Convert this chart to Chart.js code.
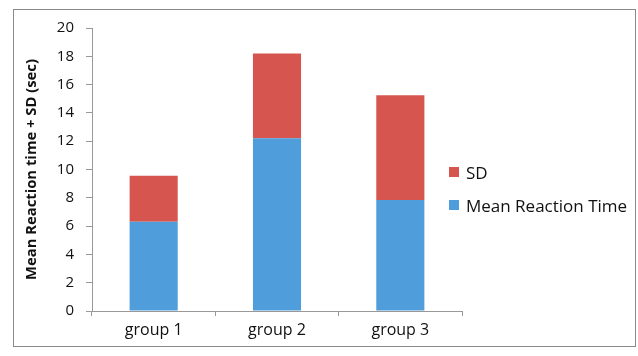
<!DOCTYPE html>
<html lang="en">
<head>
    <meta charset="UTF-8">
    <title>Mean Reaction Time + SD</title>
    <script src="https://cdn.jsdelivr.net/npm/chart.js"></script>
    <style>
        body { margin: 0; background: #fff; }
        .wrap { position: relative; width: 638px; height: 356px; }
        .frame {
            position: absolute; left: 13px; top: 9px; width: 623px; height: 338px;
            border: 1px solid #8a8a8a; box-sizing: border-box;
        }
        canvas { position: absolute; left: 0; top: 0; }
        .legend { position: absolute; left: 449px; top: 161px; font-family: "Open Sans", sans-serif; font-size: 17px; color: #111; }
        .legend div { display: flex; align-items: center; height: 22px; margin-bottom: 11px; }
        .legend span.box { width: 10px; height: 10px; margin-right: 7px; display: inline-block; }
    </style>
</head>
<body>
<div class="wrap">
    <div class="frame"></div>
    <canvas id="chart" width="638" height="356"></canvas>
    <div class="legend" id="legend"></div>
</div>
<script>
    // data
    const groups = ['group 1', 'group 2', 'group 3'];
    const meanReaction = [6.3, 12.2, 7.85];
    const sdValues = [3.25, 6.0, 7.4];
    const yTicks = [0, 2, 4, 6, 8, 10, 12, 14, 16, 18, 20];
    const yTitle = 'Mean Reaction time + SD (sec)';

    const blue = '#4f9edb';
    const red = '#d6564f';

    const datasets = [
        { label: 'Mean Reaction Time', data: meanReaction, backgroundColor: blue },
        { label: 'SD', data: sdValues, backgroundColor: red }
    ];

    // y title drawn by hand so it sits centred on the plot
    const yTitlePlugin = {
        id: 'yTitle',
        afterDraw(chart) {
            const { ctx, chartArea } = chart;
            ctx.save();
            ctx.translate(32, (chartArea.top + chartArea.bottom) / 2);
            ctx.rotate(-Math.PI / 2);
            ctx.font = 'bold 14.8px "Open Sans"';
            ctx.fillStyle = '#111';
            ctx.textAlign = 'center';
            ctx.textBaseline = 'middle';
            ctx.fillText(yTitle, 0, 0);
            ctx.restore();
        }
    };

    const chart = new Chart(document.getElementById('chart'), {
        type: 'bar',
        data: { labels: groups, datasets: datasets },
        options: {
            responsive: false,
            animation: false,
            layout: { padding: { left: 22, right: 176, top: 28, bottom: 10 } },
            datasets: { bar: { categoryPercentage: 1, barPercentage: 0.39 } },
            plugins: { legend: { display: false }, tooltip: { enabled: false } },
            scales: {
                x: {
                    stacked: true,
                    grid: { offset: true, drawOnChartArea: false, tickLength: 5, color: '#999' },
                    border: { color: '#999' },
                    ticks: { color: '#111', padding: 5, font: { family: 'Open Sans', size: 16 } },
                    afterFit: s => { s.height = 35; }
                },
                y: {
                    stacked: true,
                    min: 0,
                    max: 20,
                    afterBuildTicks: s => { s.ticks = yTicks.map(v => ({ value: v })); },
                    grid: { drawOnChartArea: false, tickLength: 6, color: '#999' },
                    border: { color: '#999' },
                    ticks: { color: '#111', padding: 12, font: { family: 'Open Sans', size: 15 } },
                    afterFit: s => { s.width = 70; }
                }
            }
        },
        plugins: [yTitlePlugin]
    });

    // legend, SD listed first like the original
    const legend = document.getElementById('legend');
    datasets.slice().reverse().forEach(ds => {
        const row = document.createElement('div');
        row.innerHTML = '<span class="box" style="background:' + ds.backgroundColor + '"></span>' + ds.label;
        legend.appendChild(row);
    });
</script>
</body>
</html>
